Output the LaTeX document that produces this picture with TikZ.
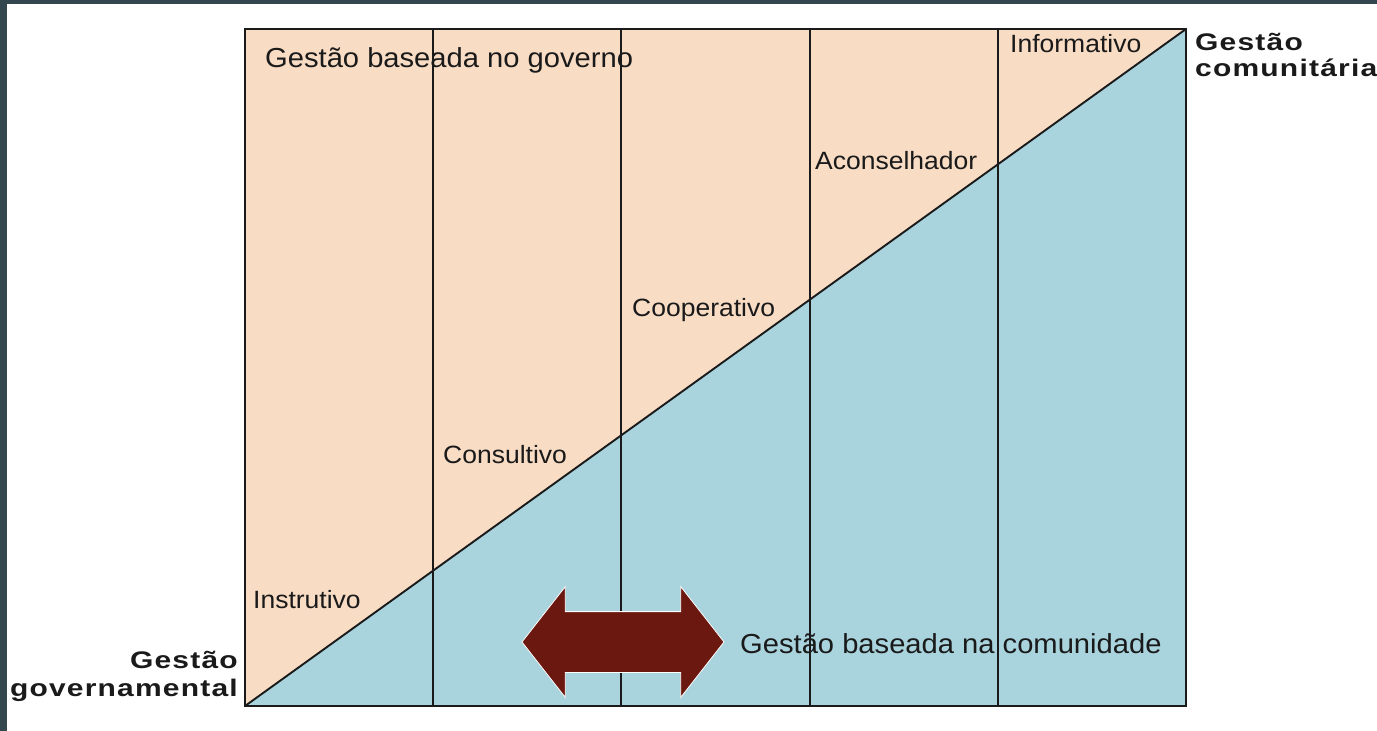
\documentclass[tikz,border=0pt]{standalone}
\usepackage{fontspec}
\setmainfont{Liberation Sans}[FakeStretch=1.06]
\newfontfamily\extbold{Liberation Sans Bold}[FakeStretch=1.25,LetterSpace=5]
\usetikzlibrary{calc,shapes.arrows}

\definecolor{frameslate}{HTML}{34474F}
\definecolor{govpeach}{HTML}{F8DCC4}
\definecolor{compale}{HTML}{A9D4DE}
\definecolor{arrowred}{HTML}{6A1810}
\definecolor{inkgray}{HTML}{1A1A1A}

\tikzset{
	stage/.style={anchor=base west, inner sep=0pt, text=inkgray, font=\fontsize{25}{30}\selectfont},
	bigstage/.style={stage, font=\fontsize{27.5}{32}\selectfont},
	sidelabel/.style={inner sep=0pt, text=inkgray, font=\extbold\fontsize{24}{28}\selectfont},
	divider/.style={draw=inkgray, line width=1.9pt},
}

\begin{document}
\begin{tikzpicture}[x=1pt, y=-1pt]
	\useasboundingbox (0,0) rectangle (1377,731);
	\fill[white] (0,0) rectangle (1377,731);
	\fill[frameslate] (0,0) rectangle (1377,4);
	\fill[frameslate] (0,0) rectangle (7,731);

	\coordinate (gov) at (245,706);
	\coordinate (tl) at (245,29);
	\coordinate (com) at (1186,29);
	\coordinate (br) at (1186,706);

	\fill[govpeach] (gov) -- (tl) -- (com) -- cycle;
	\fill[compale] (gov) -- (br) -- (com) -- cycle;

	\foreach \k in {1,...,4} {
		\coordinate (top\k) at ($(tl)!\k/5!(com)$);
		\coordinate (bot\k) at ($(gov)!\k/5!(br)$);
		\draw[divider] (top\k) -- (bot\k);
	}
	\draw[divider] (gov) -- (com);
	\draw[draw=inkgray, line width=2.2pt] (tl) rectangle (br);

	\node[double arrow, fill=arrowred, draw=white, line width=0.8pt, inner sep=0pt,
		minimum height=202pt, double arrow head extend=25pt,
		double arrow tip angle=104] (shift) at (623,642) {\rule{0pt}{60pt}};

	\node[bigstage] (govbased) at (265,67) {Gestão baseada no governo};
	\node[stage] (instr) at (253,608) {Instrutivo};
	\node[stage] (consult) at (443,463) {Consultivo};
	\node[stage] (coop) at (632,316) {Cooperativo};
	\node[stage] (advise) at (815,169) {Aconselhador};
	\node[stage] (inform) at (1010,52) {Informativo};
	\node[bigstage] (combased) at (740,653) {Gestão baseada na comunidade};

	\node[sidelabel, anchor=base west] (comA) at (1195,50) {Gestão};
	\node[sidelabel, anchor=base west] (comB) at (1195,76) {comunitária};
	\node[sidelabel, anchor=base east] (govA) at (238,668) {Gestão};
	\node[sidelabel, anchor=base east] (govB) at (238,696) {governamental};
\end{tikzpicture}
\end{document}
